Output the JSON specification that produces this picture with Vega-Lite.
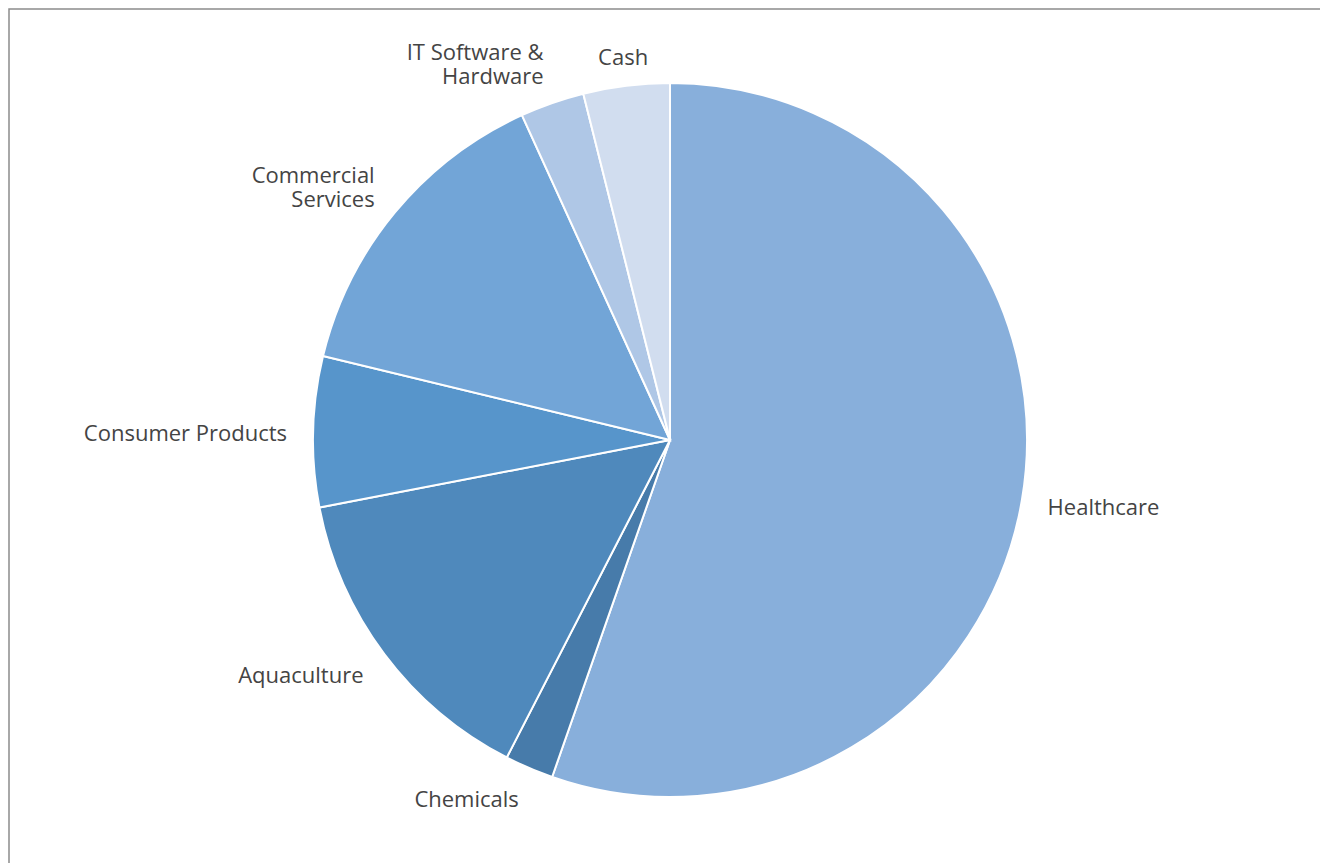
{
  "$schema": "https://vega.github.io/schema/vega-lite/v6.json",
  "autosize": {"type": "none"},
  "width": 1322,
  "height": 862,
  "padding": {"left": 9, "top": 9, "right": 0, "bottom": 0},
  "background": "white",
  "config": {"view": {"stroke": null}},
  "layer": [
    {
      "data": {"values": [{"frame": 1}]},
      "mark": {"type": "rect", "fill": null, "stroke": "#8c8c8c", "strokeWidth": 1.5},
      "encoding": {}
    },
    {
      "data": {"name": "slices"},
      "layer": [
        {
          "mark": {"type": "arc", "radius": 357, "stroke": "white", "strokeWidth": 2},
          "encoding": {
            "theta": {"field": "v", "type": "quantitative", "stack": true},
            "order": {"field": "o", "type": "quantitative"},
            "color": {
              "field": "cat",
              "type": "nominal",
              "scale": {
                "domain": ["Healthcare", "Chemicals", "Aquaculture", "Consumer Products", "Commercial Services", "IT Software & Hardware", "Cash"],
                "range": ["#88AFDB", "#477BAA", "#4F89BC", "#5795CB", "#72A5D7", "#AFC7E6", "#D1DDEF"]
              },
              "legend": null
            }
          }
        },
        {
          "mark": {
            "type": "text",
            "radius": 376,
            "font": "Open Sans",
            "fontSize": 22,
            "color": "#444444",
            "lineBreak": "\n",
            "lineHeight": 24,
            "baseline": "middle",
            "dy": {"expr": "3 - (indexof(datum.label, '\\n') >= 0 ? 12 : 0) - cos((scale('theta', datum.v_start) + scale('theta', datum.v_end)) / 2) * (indexof(datum.label, '\\n') >= 0 ? 24 : 12)"},
            "dx": {"expr": "sin((scale('theta', datum.v_start) + scale('theta', datum.v_end)) / 2) * 7"},
            "align": {"expr": "sin((scale('theta', datum.v_start) + scale('theta', datum.v_end)) / 2) > 0.3 ? 'left' : (sin((scale('theta', datum.v_start) + scale('theta', datum.v_end)) / 2) < -0.3 ? 'right' : 'center')"}
          },
          "encoding": {
            "theta": {"field": "v", "type": "quantitative", "stack": true},
            "order": {"field": "o", "type": "quantitative"},
            "text": {"field": "label"}
          }
        }
      ]
    }
  ],
  "datasets": {
    "slices": [
      {"o": 1, "cat": "Healthcare", "label": "Healthcare", "v": 55.3},
      {"o": 2, "cat": "Chemicals", "label": "Chemicals", "v": 2.2},
      {"o": 3, "cat": "Aquaculture", "label": "Aquaculture", "v": 14.4},
      {"o": 4, "cat": "Consumer Products", "label": "Consumer Products", "v": 6.8},
      {"o": 5, "cat": "Commercial Services", "label": "Commercial\nServices", "v": 14.4},
      {"o": 6, "cat": "IT Software & Hardware", "label": "IT Software &\nHardware", "v": 2.9},
      {"o": 7, "cat": "Cash", "label": "Cash", "v": 3.9}
    ]
  }
}
